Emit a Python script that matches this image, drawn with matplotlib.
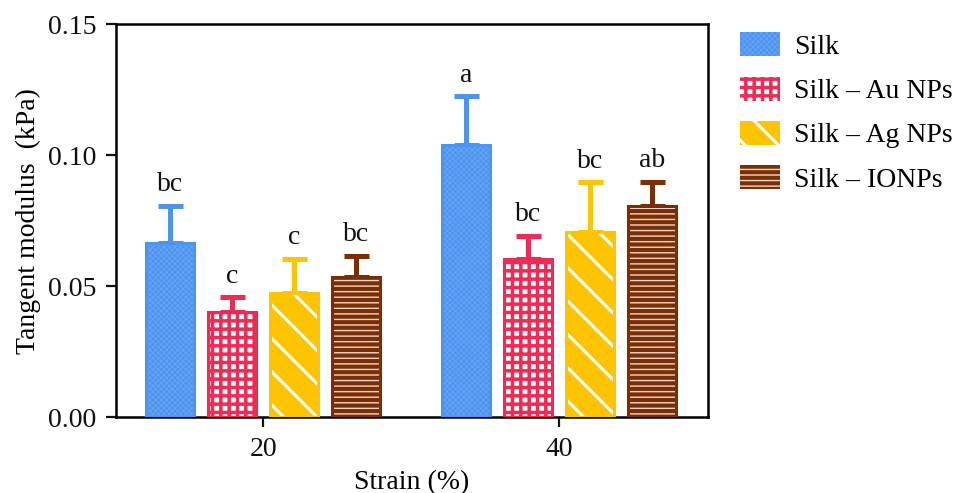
import matplotlib
matplotlib.use("Agg")
import matplotlib.pyplot as plt
from matplotlib.patches import Patch
import numpy as np

plt.rcParams['font.family'] = ['Liberation Serif', 'DejaVu Serif']

# data
strains = ["20", "40"]
series = ["Silk", "Silk \u2013 Au NPs", "Silk \u2013 Ag NPs", "Silk \u2013 IONPs"]
means = {
    "Silk": [0.0666, 0.1037],
    "Silk \u2013 Au NPs": [0.0402, 0.0605],
    "Silk \u2013 Ag NPs": [0.0475, 0.0708],
    "Silk \u2013 IONPs": [0.0536, 0.0807],
}
errors = {
    "Silk": [0.0141, 0.0188],
    "Silk \u2013 Au NPs": [0.0057, 0.0088],
    "Silk \u2013 Ag NPs": [0.0130, 0.0188],
    "Silk \u2013 IONPs": [0.0080, 0.0092],
}
letters = {
    "Silk": ["bc", "a"],
    "Silk \u2013 Au NPs": ["c", "bc"],
    "Silk \u2013 Ag NPs": ["c", "bc"],
    "Silk \u2013 IONPs": ["bc", "ab"],
}

# style: (main colour, face, hatch colour, hatch, hatch linewidth)
styles = {
    "Silk": ("#4d94f0", "#4d94f0", "#6aa6f4", "xxxxxx", 0.6),
    "Silk \u2013 Au NPs": ("#ee2a55", "white", "#ee2a55", "++", 2.5),
    "Silk \u2013 Ag NPs": ("#ffc400", "#ffc400", "white", "\\", 2.2),
    "Silk \u2013 IONPs": ("#7a2e02", "#7a2e02", "#f0d8d0", "---", 1.0),
}

fig = plt.figure(figsize=(9.54, 4.93), dpi=100)
ax = fig.add_axes([0.1216, 0.154, 0.6204, 0.797])

x = np.arange(len(strains))
width = 0.162
step = 0.21
handles = []
for i, name in enumerate(series):
    col, face, hcol, hatch, hlw = styles[name]
    pos = x + (i - 1.5) * step
    with plt.rc_context({'hatch.linewidth': hlw}):
        ax.bar(pos, means[name], width, color=face, edgecolor=hcol, hatch=hatch, linewidth=0, zorder=2)
    handles.append(Patch(facecolor=face, edgecolor=hcol, hatch=hatch, linewidth=0))
    ax.bar(pos, means[name], width, fill=False, edgecolor=col, linewidth=2.2, zorder=3)
    ax.errorbar(pos, means[name], yerr=[np.zeros(len(pos)), errors[name]], fmt='none',
                ecolor=col, elinewidth=3.6, capsize=9, capthick=3.6, zorder=1)
    for p, m, e, t in zip(pos, means[name], errors[name], letters[name]):
        ax.annotate(t, (p, m + e), xytext=(0, 6), textcoords='offset points',
                    ha='center', va='bottom', fontsize=20, color='#111111')

ax.set_xlim(-0.497, 1.503)
ax.set_ylim(0, 0.15)
ax.set_yticks([0, 0.05, 0.10, 0.15])
ax.set_yticklabels(["0.00", "0.05", "0.10", "0.15"])
ax.set_xticks(x)
ax.set_xticklabels(strains)
ax.tick_params(direction='out', length=7, width=1.6, labelsize=20, colors='#111111', pad=7)
for s in ax.spines.values():
    s.set_linewidth(1.8)
ax.set_ylabel("Tangent modulus  (kPa)", fontsize=20, labelpad=5)
ax.set_xlabel("Strain (%)", fontsize=20, labelpad=6)

leg = fig.legend(handles, series, loc='upper left', bbox_to_anchor=(0.749, 0.985), frameon=False,
                 fontsize=20, handlelength=1.45, handleheight=0.95, labelspacing=0.6, handletextpad=0.5)
for p, name in zip(leg.get_patches(), series):
    lw = styles[name][4]
    if hasattr(p, 'set_hatch_linewidth'):
        p.set_hatch_linewidth(lw)
    else:
        p._hatch_linewidth = lw

fig.savefig("out.png", dpi=100)
